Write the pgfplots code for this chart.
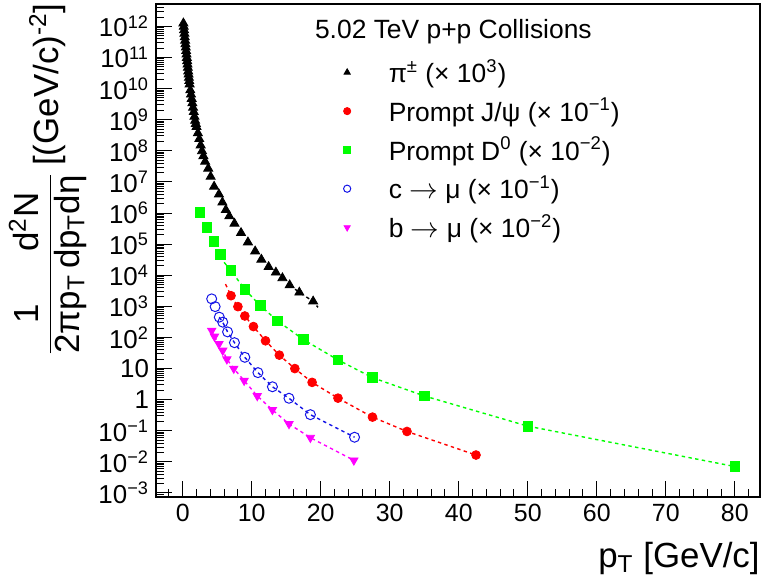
\documentclass[border=0pt]{standalone}
\usepackage{fontspec}
\setmainfont{Liberation Sans}
\usepackage{pgfplots}
\pgfplotsset{compat=1.18}
\usetikzlibrary{calc}
\definecolor{rgreen}{RGB}{0,255,0}
\definecolor{rred}{RGB}{255,0,0}
\definecolor{rblue}{RGB}{20,20,230}
\definecolor{rmag}{RGB}{255,0,255}
\def\myminor{1e-4}
\foreach \e in {-4,...,12}{\foreach \m in {2,...,9}{\xdef\myminor{\myminor,\m e\e}}}
\begin{document}
\begin{tikzpicture}
\begin{axis}[
  scale only axis, width=302bp, height=246.5bp,
  xmin=-3.87, xmax=83.65,
  ymode=log, ymin=7.43e-4, ymax=5.25e12,
  xtick={0,10,...,80},
  minor xtick={-2,0,...,82},
  ytick={1e-3,1e-2,1e-1,1,10,1e2,1e3,1e4,1e5,1e6,1e7,1e8,1e9,1e10,1e11,1e12},
  minor ytick/.expand once={\myminor},
  yticklabels={10\textsuperscript{−3},10\textsuperscript{−2},10\textsuperscript{−1},1,10,10\textsuperscript{2},10\textsuperscript{3},10\textsuperscript{4},10\textsuperscript{5},10\textsuperscript{6},10\textsuperscript{7},10\textsuperscript{8},10\textsuperscript{9},10\textsuperscript{10},10\textsuperscript{11},10\textsuperscript{12}},
  /pgf/number format/assume math mode=true,
  tick pos=left, tick align=inside,
  major tick length=8bp, minor tick length=4bp,
  axis line style={line width=0.6bp},
  every tick/.style={line width=0.5bp, black},
  x tick label style={font=\fontsize{12.5}{14}\selectfont},
  y tick label style={font=\fontsize{13}{15}\selectfont},
  legend style={at={(0.30,0.905)}, anchor=north west, draw=none, fill=none,
    font=\fontsize{13.25}{16}\selectfont, row sep=2.3bp, cells={anchor=west},
    /tikz/every odd column/.append style={column sep=17bp}},
  legend image code/.code={\draw[#1,/tikz/mark size=1.8bp] plot coordinates {(0bp,0bp)};},
]
% dashed fit lines
\addplot[forget plot, black, line width=0.7bp, dash pattern=on 1.7bp off 1.7bp] coordinates {
 (15.5,4.8e3) (16.9,2.8e3) (18.9,1.45e3) (19.6,9.3e2)};
\addplot[forget plot, rred, line width=0.7bp, dash pattern=on 1.7bp off 1.7bp] coordinates {
 (6.2,5.2e3) (7,2.2e3) (8,9.8e2) (9,4.9e2) (10.25,2.24e2) (12,78) (14,27) (16.25,10) (18.75,3.6) (22.5,1.12) (27.5,0.275) (32.5,0.095) (42.5,0.0166)};
\addplot[forget plot, rgreen, line width=0.7bp, dash pattern=on 1.7bp off 1.7bp] coordinates {
 (6,2.6e4) (7,1.41e4) (9,3.5e3) (11.25,1.05e3) (13.75,3.4e2) (17.5,85) (22.5,19) (27.5,5.1) (35,1.32) (50,0.141) (80,7.1e-3) (80.5,6.6e-3)};
\addplot[forget plot, rblue, line width=0.7bp, dash pattern=on 1.7bp off 1.7bp] coordinates {
 (5.3,4.5e2) (5.8,3.1e2) (6.5,1.51e2) (7.5,68) (9.0,23) (10.9,7.4) (13.0,2.6) (15.4,1.11) (18.5,0.33) (24.9,0.062)};
\addplot[forget plot, rmag, line width=0.7bp, dash pattern=on 1.7bp off 1.7bp] coordinates {
 (4.2,166) (4.6,107) (5.25,62) (5.8,38) (6.4,20) (7.4,10) (8.9,4.1) (10.8,1.32) (13.0,0.47) (15.4,0.166) (18.5,0.060) (24.8,0.0112)};
% pi+- (x 10^3)
\addplot[only marks, mark=triangle*, mark size=2.6bp, black] coordinates {
 (0.1,1.26e12) (0.15,9.8e11) (0.2,7.6e11) (0.25,5.9e11) (0.3,4.5e11) (0.35,3.5e11) (0.4,2.7e11) (0.45,2.1e11) (0.5,1.62e11) (0.55,1.26e11) (0.6,9.8e10) (0.65,7.7e10) (0.7,6.0e10) (0.75,4.7e10) (0.8,3.6e10) (0.85,2.85e10) (0.9,2.24e10) (0.95,1.76e10) (1.0,1.38e10)
 (1.1,8.9e9) (1.2,6.5e9) (1.3,4.7e9) (1.4,3.4e9) (1.5,2.45e9) (1.6,1.78e9) (1.7,1.26e9) (1.8,9.3e8) (1.9,7.4e8) (2.0,5.9e8)
 (2.2,3.7e8) (2.4,2.4e8) (2.6,1.51e8) (2.8,9.8e7) (3.0,6.8e7) (3.25,4.5e7) (3.7,2.7e7) (4.05,1.48e7) (4.55,7.1e6) (5.25,4.0e6)
 (5.75,2.2e6) (6.25,1.26e6) (6.75,7.9e5) (7.5,4.6e5) (8.45,2.3e5) (9.45,1.15e5) (10.5,5.9e4) (11.4,3.2e4) (12.45,1.86e4) (13.5,1.23e4)
 (14.45,8.1e3) (15.5,4.8e3) (16.9,2.8e3) (18.9,1.45e3)};
\addlegendentry{π\textsuperscript{±} (× 10\textsuperscript{3})}
% prompt J/psi
\addplot[only marks, mark=*, mark size=2.2bp, rred] coordinates {
 (7,2.2e3) (8,9.8e2) (9,4.9e2) (10.25,2.24e2) (12,78) (14,27) (16.25,10) (18.75,3.6) (22.5,1.12) (27.5,0.275) (32.5,0.095) (42.5,0.0166)};
\addlegendentry{Prompt J/ψ (× 10\textsuperscript{−1})}
% prompt D0
\addplot[only marks, mark=square*, mark size=2.4bp, rgreen] coordinates {
 (2.5,1.07e6) (3.5,3.4e5) (4.5,1.2e5) (5.5,4.6e4) (7,1.41e4) (9,3.5e3) (11.25,1.05e3) (13.75,3.4e2) (17.5,85) (22.5,19) (27.5,5.1) (35,1.32) (50,0.141) (80,7.1e-3)};
\addlegendentry{Prompt D\textsuperscript{0} (× 10\textsuperscript{−2})}
% c -> mu
\addplot[only marks, mark=o, mark size=2.5bp, rblue, line width=0.5bp] coordinates {
 (4.2,1.74e3) (4.7,9.8e2) (5.3,4.5e2) (5.8,3.1e2) (6.5,1.51e2) (7.5,68) (9.0,23) (10.9,7.4) (13.0,2.6) (15.4,1.11) (18.5,0.33) (24.9,0.062)};
\addlegendentry{c $\rightarrow$ μ (× 10\textsuperscript{−1})}
% b -> mu
\addplot[only marks, mark=triangle*, mark options={rotate=180}, mark size=2.4bp, rmag] coordinates {
 (4.2,166) (4.6,107) (5.25,62) (5.8,38) (6.4,20) (7.4,10) (8.9,4.1) (10.8,1.32) (13.0,0.47) (15.4,0.166) (18.5,0.060) (24.8,0.0112)};
\addlegendentry{b $\rightarrow$ μ (× 10\textsuperscript{−2})}
\node[anchor=base west, font=\fontsize{13.25}{16}\selectfont] at (axis description cs:0.2517,0.931) {5.02 TeV p+p Collisions};
\end{axis}
\node[anchor=base east, font=\fontsize{17.5}{20}\selectfont, inner sep=0pt] at ($(current axis.south east)+(0,-35bp)$) {p\textsubscript{T} [GeV/c]};
\node[rotate=90, font=\fontsize{17.5}{20}\selectfont, inner sep=0pt] at ($(current axis.north west)+(-53bp,-87.25bp)$)
 {\begin{tabular}{@{}c@{\,}c@{}}1&d\textsuperscript{2}N\\\hline 2πp\textsubscript{T}&dp\textsubscript{T}dη\end{tabular} [(GeV/c)\textsuperscript{-2}]};
\pgfresetboundingbox
\path[use as bounding box] ($(current axis.south west)+(-78bp,-43bp)$) rectangle ($(current axis.north east)+(0.5bp,2bp)$);
\end{tikzpicture}
\end{document}
